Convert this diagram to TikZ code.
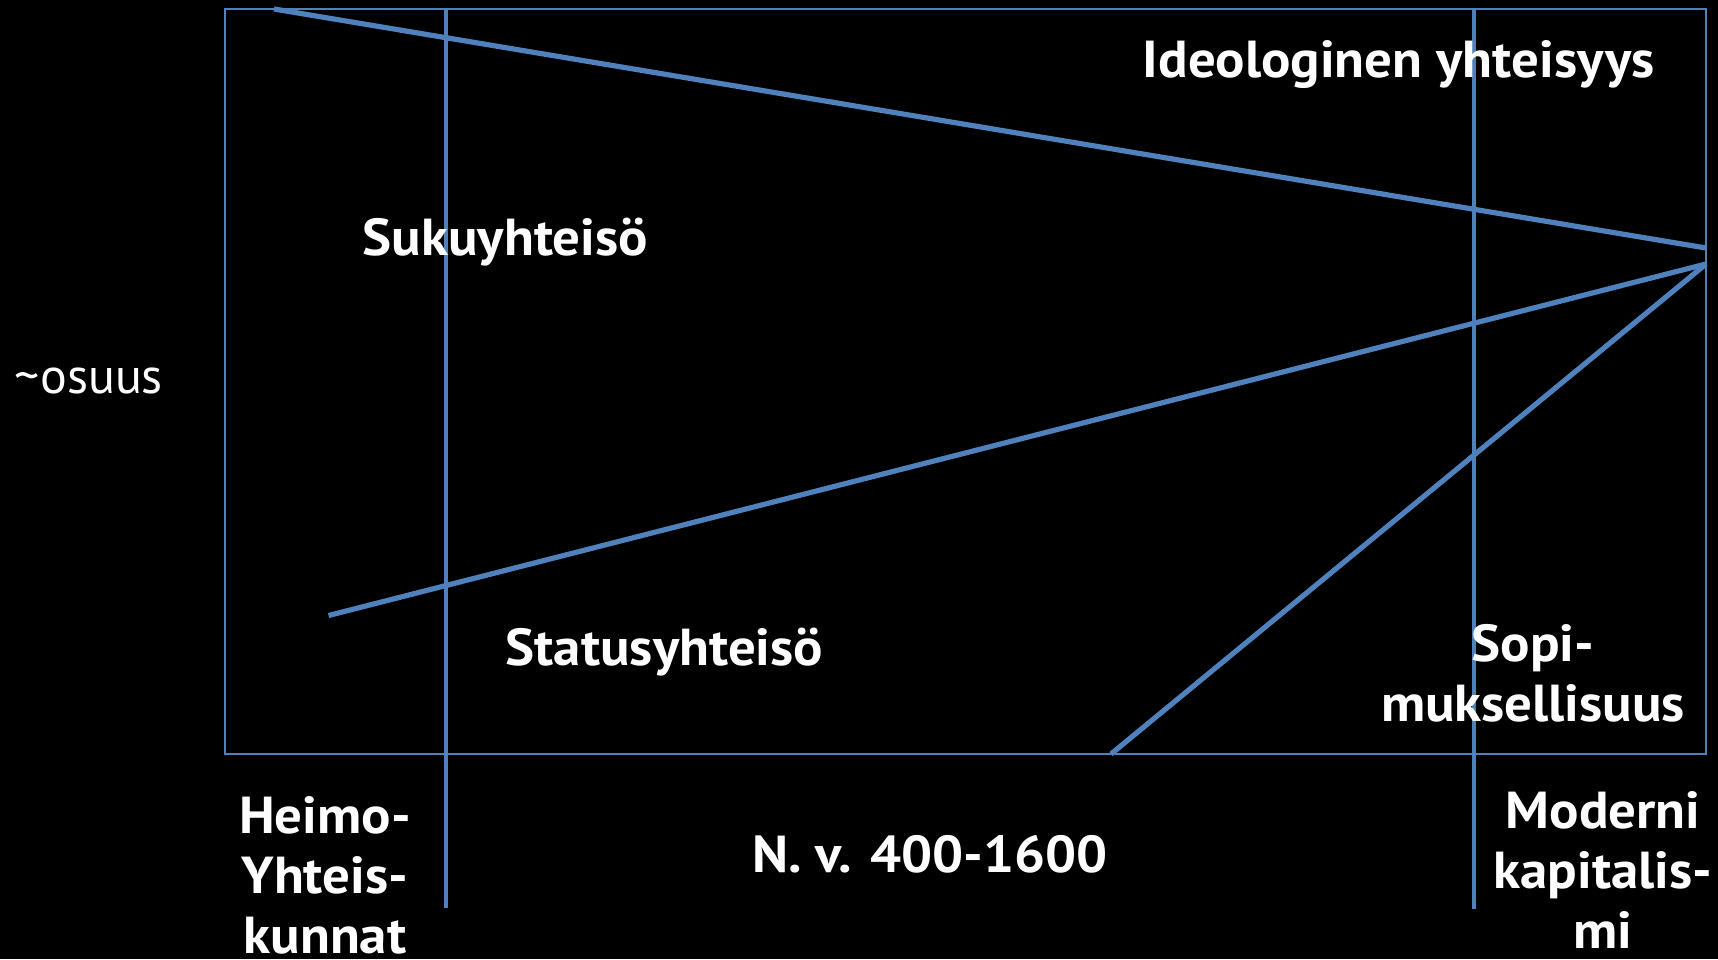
\documentclass[tikz,border=0pt]{standalone}
\usepackage{fontspec}
\setmainfont[FakeStretch=1.055]{PT Sans}
\newfontfamily\plainsans{PT Sans}
\definecolor{lineblue}{HTML}{4F81BD}
\begin{document}
\begin{tikzpicture}[x=0.5pt,y=-0.5pt,
  frame/.style={draw=lineblue,line width=1pt},
  era/.style={draw=lineblue,line width=2pt},
  trend/.style={draw=lineblue,line width=2.6pt},
  lbl/.style={text=white,inner sep=0pt,anchor=base,align=center,
    font=\bfseries\fontsize{26}{30}\selectfont}]
\fill[black] (0,0) rectangle (1718,959);
\useasboundingbox (0,0) rectangle (1718,959);
% frame
\coordinate (fTL) at (224.5,9);
\coordinate (fBR) at (1706,754);
\draw[frame] (fTL) rectangle (fBR);
% era dividers
\coordinate (v1t) at (446,9);
\coordinate (v1b) at (446,908);
\coordinate (v2t) at (1474,10);
\coordinate (v2b) at (1474,909);
\draw[era] (v1t) -- (v1b);
\draw[era] (v2t) -- (v2b);
% trend lines
\coordinate (kinS) at (274,9);
\coordinate (kinE) at (1706,248);
\coordinate (statS) at (328.5,615.5);
\coordinate (meet) at (1706,264);
\coordinate (contS) at (1111,754);
\draw[trend] (kinS) -- (kinE);
\draw[trend] (statS) -- (meet);
\draw[trend] (contS) -- (meet);
% labels
\node[lbl] (ideo) at (1399,77) {Ideologinen yhteisyys};
\node[lbl] (suku) at (505.5,255) {Sukuyhteisö};
\node[lbl,font=\plainsans\fontsize{25}{30}\selectfont] (osuus) at (89,393) {\textasciitilde osuus};
\node[lbl] (status) at (664.5,665) {Statusyhteisö};
\node[lbl] (sopi) at (1533,721) {Sopi-\\muksellisuus};
\node[lbl] (heimo) at (325,953) {Heimo-\\Yhteis-\\kunnat};
\node[lbl] (nv) at (930,872) {N. v. 400-1600};
\node[lbl] (moderni) at (1603,948) {Moderni\\kapitalis-\\mi};
\end{tikzpicture}
\end{document}
